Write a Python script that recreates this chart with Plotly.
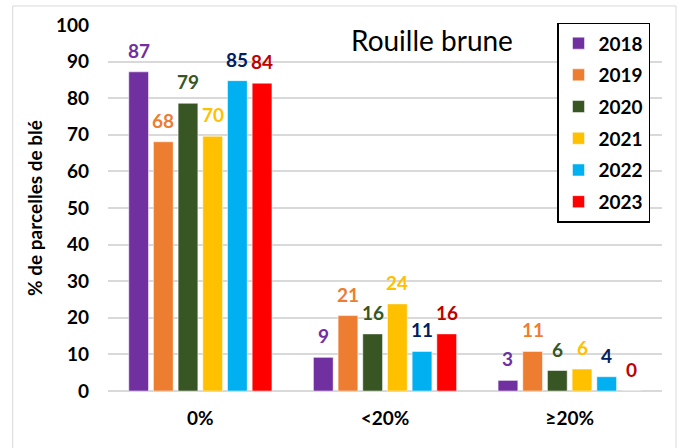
import plotly.graph_objects as go

categories = ['0%', '<20%', '≥20%']
years = ['2018', '2019', '2020', '2021', '2022', '2023']

v2018 = [87.2, 9.2, 2.9]
v2019 = [68.1, 20.6, 10.8]
v2020 = [78.6, 15.6, 5.6]
v2021 = [69.6, 23.8, 6.0]
v2022 = [84.8, 10.8, 3.9]
v2023 = [84.1, 15.6, 0.0]
series = [v2018, v2019, v2020, v2021, v2022, v2023]

bar_colors = ['#7030A0', '#ED7D31', '#375623', '#FFC000', '#00B0F0', '#FF0000']
label_colors = ['#7030A0', '#ED7D31', '#375623', '#FFC000', '#002060', '#C00000']

FONT = 'Lato'
BAR_PITCH = 24.7  # px between bars inside a group

fig = go.Figure()

for i, (year, vals) in enumerate(zip(years, series)):
    fig.add_trace(go.Bar(
        x=categories,
        y=vals,
        name=year,
        legendgroup=year,
        marker=dict(color=bar_colors[i], line=dict(color='white', width=0.5)),
        hoverinfo='skip',
    ))
    # value labels above bars
    for cat, v in zip(categories, vals):
        fig.add_annotation(
            x=cat, y=v, xref='x', yref='y',
            text=f'{round(v):d}',
            showarrow=False,
            yanchor='bottom',
            xshift=(i - 2.5) * BAR_PITCH,
            yshift=8,
            font=dict(family=FONT, size=19, color=label_colors[i], weight='bold'),
        )

fig.add_annotation(
    x=0.584, y=0.958, xref='paper', yref='paper',
    text='Rouille brune', showarrow=False,
    xanchor='center', yanchor='middle',
    font=dict(family=FONT, size=28, color='black'),
)

# light outer frame of the chart
fig.add_shape(
    type='rect', xref='paper', yref='paper',
    x0=-0.172, x1=1.0253, y0=-0.4, y1=1.052,
    line=dict(color='#D9D9D9', width=1),
    layer='below',
)

fig.update_layout(
    width=681,
    height=448,
    margin=dict(l=108, r=19, t=25, b=57),
    plot_bgcolor='white',
    paper_bgcolor='white',
    barmode='group',
    bargap=0.198,
    bargroupgap=0.2,
    font=dict(family=FONT, color='black'),
    showlegend=True,
    legend=dict(
        x=0.8105, y=1.006, xanchor='left', yanchor='top',
        bordercolor='black', borderwidth=1.5, bgcolor='white',
        font=dict(family=FONT, size=19, color='black', weight='bold'),
        tracegroupgap=4,
        itemwidth=30,
        itemclick=False, itemdoubleclick=False,
    ),
    xaxis=dict(
        showgrid=False,
        showline=False,
        ticks='',
        ticklabelstandoff=14,
        tickfont=dict(family=FONT, size=19, color='black', weight='bold'),
    ),
    yaxis=dict(
        range=[0, 100],
        dtick=10,
        showgrid=True,
        gridcolor='#D9D9D9',
        gridwidth=2,
        zeroline=True,
        zerolinecolor='#D9D9D9',
        zerolinewidth=2,
        showline=False,
        ticks='',
        ticklabelstandoff=18,
        tickfont=dict(family=FONT, size=19, color='black', weight='bold'),
        title=dict(
            text='% de parcelles de blé',
            standoff=8,
            font=dict(family=FONT, size=19, color='black', weight='bold'),
        ),
    ),
)

fig.write_html(
    'out.html',
    config={'displayModeBar': False},
    post_script="document.body.style.margin='0';",
)
